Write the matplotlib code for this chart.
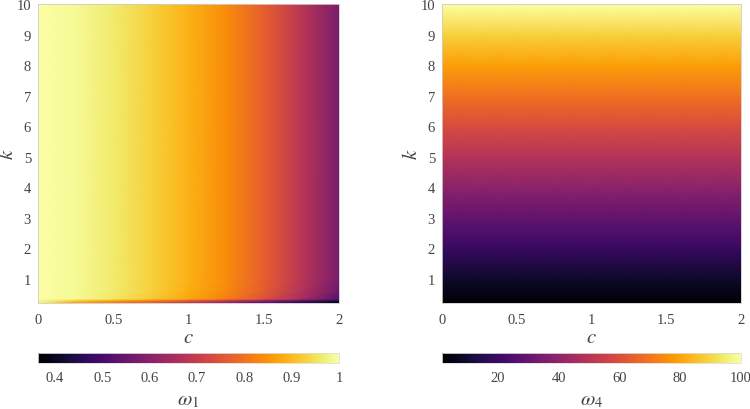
import numpy as np
import matplotlib
matplotlib.use("Agg")
import matplotlib.pyplot as plt

plt.rcParams['font.family'] = ['Liberation Serif', 'DejaVu Serif']
plt.rcParams['mathtext.fontset'] = 'stix'

c_vals = [0.0, 0.25, 0.5, 0.75, 1.0, 1.25, 1.5, 1.75, 2.0]

# omega_1: rows are k values, columns are c values
k1_vals = [0.2, 0.29, 0.34, 0.6, 1.0, 10.0]
omega1 = [
    [0.98, 0.86, 0.80, 0.75, 0.68, 0.60, 0.52, 0.44, 0.364],
    [0.99, 0.93, 0.88, 0.83, 0.77, 0.70, 0.62, 0.54, 0.45],
    [1.00, 0.99, 0.96, 0.92, 0.875, 0.82, 0.745, 0.65, 0.53],
    [1.00, 0.99, 0.965, 0.93, 0.885, 0.835, 0.765, 0.67, 0.56],
    [1.00, 0.99, 0.965, 0.93, 0.89, 0.84, 0.77, 0.68, 0.58],
    [1.00, 0.99, 0.965, 0.93, 0.89, 0.84, 0.77, 0.68, 0.58],
]

# omega_4 depends on k only
k4_vals = [0.2, 1, 2, 3, 4, 5, 6, 7, 8, 9, 10]
omega4 = [1.6, 9, 19, 29, 39, 49, 59, 69, 79, 89, 100]

x_ticks = [0, 0.5, 1, 1.5, 2]
x_ticklabels = ['0', '0.5', '1', '1.5', '2']
y_ticks = [1, 2, 3, 4, 5, 6, 7, 8, 9, 10]
cb1_ticks = [0.4, 0.5, 0.6, 0.7, 0.8, 0.9, 1]
cb1_labels = ['0.4', '0.5', '0.6', '0.7', '0.8', '0.9', '1']
cb4_ticks = [20, 40, 60, 80, 100]

W, H = 750, 410
fig = plt.figure(figsize=(7.5, 4.1), dpi=100)

def box(x0, y0, x1, y1):
    return [x0 / W, 1 - y1 / H, (x1 - x0) / W, (y1 - y0) / H]

ax1 = fig.add_axes(box(38, 5, 339, 304))
ax2 = fig.add_axes(box(442, 5, 741, 304))
cax1 = fig.add_axes(box(38, 354, 339, 364))
cax2 = fig.add_axes(box(442, 354, 741, 364))

C1, K1 = np.meshgrid(c_vals, k1_vals)
Z1 = np.array(omega1)
m1 = ax1.pcolormesh(C1, K1, Z1, shading='gouraud', cmap='inferno',
                    vmin=Z1.min(), vmax=Z1.max(), rasterized=True)

C4, K4 = np.meshgrid(c_vals, k4_vals)
Z4 = np.tile(np.array(omega4)[:, None], (1, len(c_vals)))
m4 = ax2.pcolormesh(C4, K4, Z4, shading='gouraud', cmap='inferno',
                    vmin=Z4.min(), vmax=Z4.max(), rasterized=True)

tick_color = '#444444'
for ax in (ax1, ax2):
    ax.set_xlim(0, 2)
    ax.set_ylim(0.2, 10)
    ax.set_xticks(x_ticks)
    ax.set_xticklabels(x_ticklabels)
    ax.set_yticks(y_ticks)
    ax.tick_params(axis='x', length=0, labelsize=10.5, labelcolor=tick_color, pad=7)
    ax.tick_params(axis='y', length=0, labelsize=10.5, labelcolor=tick_color, pad=5)
    for s in ax.spines.values():
        s.set_color('#cccccc')
        s.set_linewidth(0.6)
    ax.set_xlabel('$c$', fontsize=15, color=tick_color, labelpad=2)
    ax.set_ylabel('$k$', fontsize=15, color=tick_color)
    ax.yaxis.set_label_coords(-0.068, 0.5)

cb1 = fig.colorbar(m1, cax=cax1, orientation='horizontal')
cb1.set_ticks(cb1_ticks)
cb1.set_ticklabels(cb1_labels)
cb4 = fig.colorbar(m4, cax=cax2, orientation='horizontal')
cb4.set_ticks(cb4_ticks)
for cb, lab in ((cb1, r'$\omega_1$'), (cb4, r'$\omega_4$')):
    cb.outline.set_edgecolor('#dddddd')
    cb.outline.set_linewidth(0.6)
    cb.ax.tick_params(length=0, labelsize=10.5, labelcolor=tick_color, pad=6)
    cb.set_label(lab, fontsize=15, color=tick_color, labelpad=4)

fig.savefig('out.png', dpi=100)
